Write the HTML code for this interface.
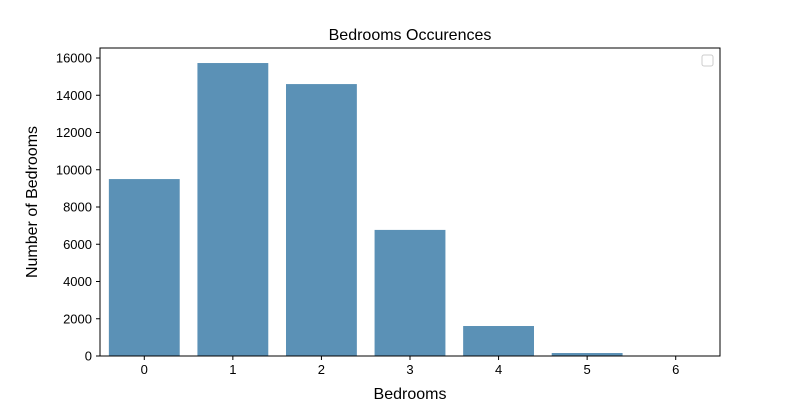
<!DOCTYPE html>
<html><head><meta charset="utf-8"><style>body{margin:0;background:#fff}svg{display:block;font-family:"Liberation Sans","DejaVu Sans",sans-serif}</style></head>
<body>
<svg id="chart" width="800" height="400"></svg>
<script>
const categories = ["0","1","2","3","4","5","6"];
const counts = [9500, 15730, 14600, 6770, 1610, 160, 10];
const yTicks = [0,2000,4000,6000,8000,10000,12000,14000,16000];
const NS="http://www.w3.org/2000/svg";
const svg=document.getElementById('chart');
const L=100,R=720,T=48,B=356;
const step=(R-L)/categories.length;
const xs=i=>L+step*(i+0.5);
const ys=v=>B-v*(B-58)/16000;
function mk(t,a,p){const e=document.createElementNS(NS,t);for(const k in a)e.setAttribute(k,a[k]);(p||svg).appendChild(e);return e;}
counts.forEach((v,i)=>{
  const r=mk('rect',{x:xs(i)-step*0.4,y:ys(v),width:step*0.8,height:B-ys(v),fill:'#5b91b6'});
  
  
});
const frame=mk('rect',{x:L,y:T,width:R-L,height:B-T,fill:'none',stroke:'#000','stroke-width':1});


categories.forEach((c,i)=>{
  mk('line',{x1:xs(i),x2:xs(i),y1:B,y2:B+4,stroke:'#000'});
  const t=mk('text',{x:xs(i),y:B+18,'text-anchor':'middle','font-size':13});t.textContent=c;
  
  
});
yTicks.forEach(v=>{
  mk('line',{x1:L-4,x2:L,y1:ys(v),y2:ys(v),stroke:'#000'});
  const t=mk('text',{x:L-8,y:ys(v)+4.5,'text-anchor':'end','font-size':13});t.textContent=v;
  
  
});
const ti=mk('text',{x:410,y:40,'text-anchor':'middle','font-size':16});ti.textContent='Bedrooms Occurences';


const xt=mk('text',{x:410,y:399,'text-anchor':'middle','font-size':16});xt.textContent='Bedrooms';


const yt=mk('text',{x:0,y:0,'text-anchor':'middle','font-size':16,transform:'translate(37,202) rotate(-90)'});yt.textContent='Number of Bedrooms';


const lg=mk('rect',{x:702,y:55,width:11,height:11,rx:2,fill:'#fff',stroke:'#ccc'});


</script>
</body></html>
